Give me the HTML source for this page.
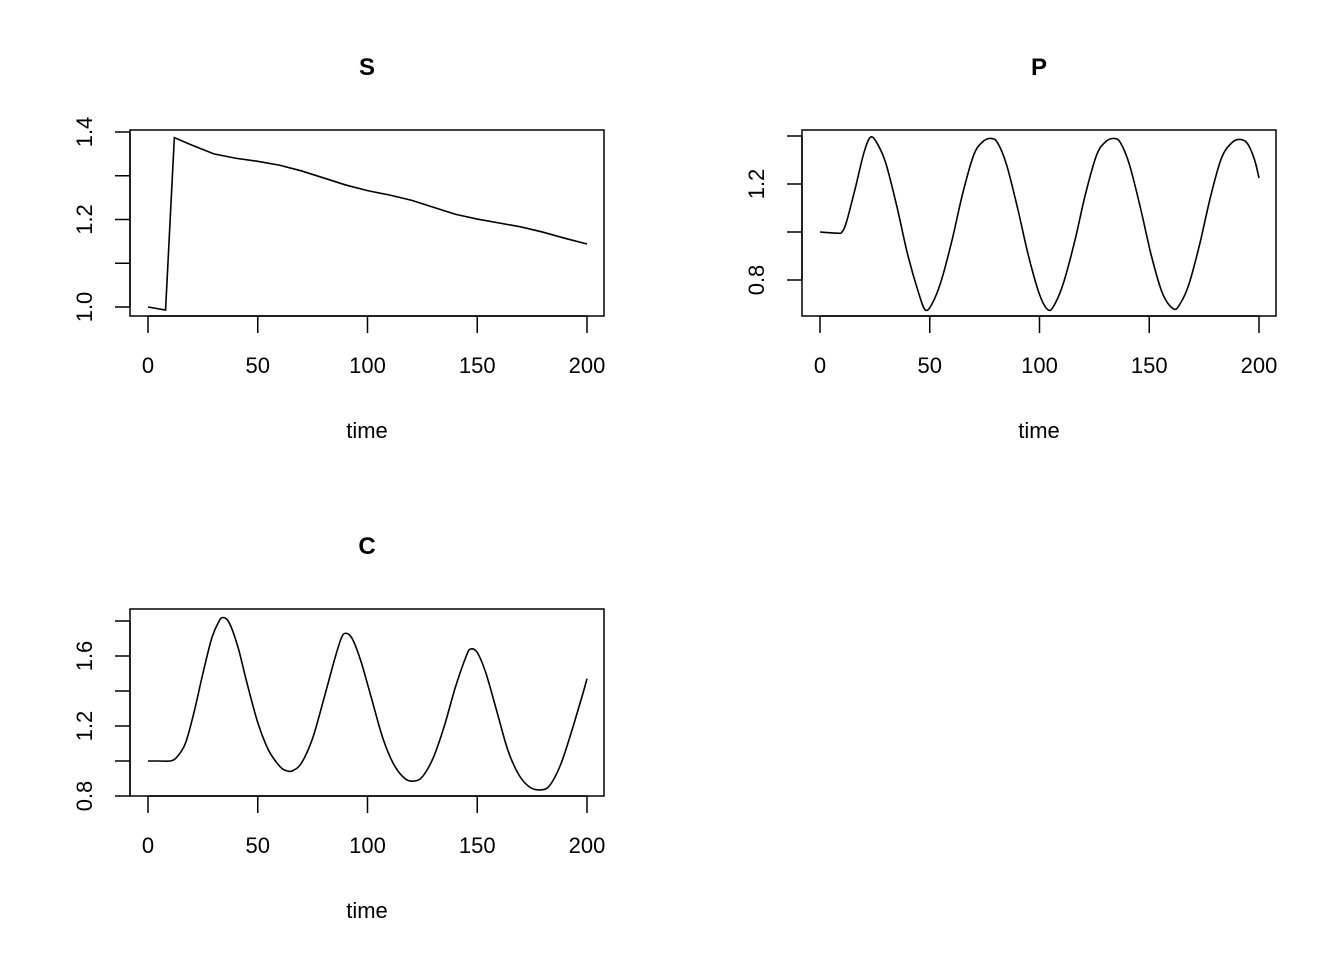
<!DOCTYPE html>
<html><head><meta charset="utf-8"><style>
html,body{margin:0;padding:0;background:#fff;}
svg{display:block;font-family:"Liberation Sans",Arial,sans-serif;}
</style></head><body>
<svg id="c" width="1344" height="960" viewBox="0 0 1344 960"></svg>
<script>
const sTime=[0,8,12,20,30,40,50,60,70,80,90,100,110,120,130,140,150,160,170,180,190,200];
const sVals=[1.0,0.993,1.387,1.37,1.35,1.34,1.333,1.324,1.311,1.295,1.279,1.266,1.256,1.244,1.228,1.212,1.201,1.192,1.183,1.171,1.157,1.144];
const pTime=[0,8,10,12,16,20,23,26,30,35,40,45,48,51,55,60,65,70,74,78,81,85,90,95,100,104,107,111,116,121,126,130,134,137,141,146,151,156,161,164,168,173,178,183,188,192,195,198,200];
const pVals=[1.0,0.995,1.0,1.04,1.18,1.33,1.395,1.37,1.286,1.107,0.904,0.744,0.675,0.70,0.79,0.96,1.16,1.32,1.375,1.39,1.37,1.28,1.10,0.90,0.74,0.675,0.70,0.79,0.96,1.16,1.32,1.375,1.39,1.37,1.28,1.10,0.90,0.745,0.68,0.70,0.78,0.95,1.15,1.31,1.375,1.385,1.365,1.30,1.225];
const cTime=[0,5,10,13,17,21,25,29,32,34,37,41,45,50,55,60,63,66,70,75,80,85,88,90,93,97,102,107,112,117,121,125,130,135,140,145,147,150,154,159,164,169,174,179,183,188,193,198,200];
const cVals=[1.0,1.0,1.0,1.02,1.1,1.28,1.5,1.7,1.79,1.82,1.79,1.65,1.45,1.22,1.06,0.97,0.945,0.945,0.99,1.13,1.35,1.58,1.7,1.73,1.7,1.57,1.35,1.13,0.98,0.9,0.885,0.91,1.02,1.2,1.42,1.6,1.64,1.62,1.5,1.28,1.06,0.92,0.85,0.835,0.86,0.98,1.17,1.38,1.47];
const xTicks=[0,50,100,150,200];
const sYTicks=[1.0,1.1,1.2,1.3,1.4], sYLabels=["1.0","","1.2","","1.4"];
const pYTicks=[0.8,1.0,1.2,1.4], pYLabels=["0.8","","1.2",""];
const cYTicks=[0.8,1.0,1.2,1.4,1.6,1.8], cYLabels=["0.8","","1.2","","1.6",""];

const svg=document.getElementById('c');
const NS='http://www.w3.org/2000/svg';
function mk(tag,attrs,parent){const e=document.createElementNS(NS,tag);for(const k in attrs)e.setAttribute(k,attrs[k]);(parent||svg).appendChild(e);return e;}

function panel(name,title,box,y0v,y0p,y1v,y1p,times,vals,yt,yl,smooth){
  const g=mk('g',{});
  
  
  const X=t=>box.x0x+(t)*(box.x200-box.x0x)/200;
  const Y=v=>y0p+(v-y0v)*(y1p-y0p)/(y1v-y0v);
  const r=mk('rect',{x:box.l,y:box.t,width:box.r-box.l,height:box.b-box.t,fill:'none',stroke:'#000','stroke-width':1.5},g);
  
  
  const tt=mk('text',{x:(box.l+box.r)/2,y:box.t-55,'text-anchor':'middle','font-size':24,'font-weight':'bold'},g);
  tt.textContent=title;
  
  
  mk('line',{x1:X(xTicks[0]),x2:X(xTicks[xTicks.length-1]),y1:box.b,y2:box.b,stroke:'#000','stroke-width':1.5},g);
  xTicks.forEach(t=>{
    mk('line',{x1:X(t),x2:X(t),y1:box.b,y2:box.b+17,stroke:'#000','stroke-width':1.5},g);
    const l=mk('text',{x:X(t),y:box.b+57,'text-anchor':'middle','font-size':22},g);
    l.textContent=t;
    
    
  });
  const xl=mk('text',{x:(box.l+box.r)/2,y:box.b+122,'text-anchor':'middle','font-size':22},g);
  xl.textContent='time';
  
  
  mk('line',{x1:box.l,x2:box.l,y1:Y(yt[0]),y2:Y(yt[yt.length-1]),stroke:'#000','stroke-width':1.5},g);
  yt.forEach((v,i)=>{
    mk('line',{x1:box.l-15,x2:box.l,y1:Y(v),y2:Y(v),stroke:'#000','stroke-width':1.5},g);
    if(yl[i]){
      const xx=box.l-38, yy=Y(v);
      const l=mk('text',{x:xx,y:yy,'text-anchor':'middle','font-size':22,transform:`rotate(-90 ${xx} ${yy})`},g);
      l.textContent=yl[i];
      
      
    }
  });
  const pts=times.map((t,i)=>[X(t),Y(vals[i])]);
  let d='M'+pts[0][0].toFixed(2)+','+pts[0][1].toFixed(2);
  for(let i=1;i<pts.length;i++){
    if(!smooth){d+=' L'+pts[i][0].toFixed(2)+','+pts[i][1].toFixed(2);continue;}
    const p0=pts[Math.max(i-2,0)],p1=pts[i-1],p2=pts[i],p3=pts[Math.min(i+1,pts.length-1)];
    const c1=[p1[0]+(p2[0]-p0[0])/6,p1[1]+(p2[1]-p0[1])/6];
    const c2=[p2[0]-(p3[0]-p1[0])/6,p2[1]-(p3[1]-p1[1])/6];
    d+=` C${c1[0].toFixed(2)},${c1[1].toFixed(2)} ${c2[0].toFixed(2)},${c2[1].toFixed(2)} ${p2[0].toFixed(2)},${p2[1].toFixed(2)}`;
  }
  const path=mk('path',{d:d,fill:'none',stroke:'#000','stroke-width':1.6},g);
  
  
}
panel('s','S',{l:130,r:604,t:130,b:316,x0x:148,x200:587},1.0,307,1.4,132,sTime,sVals,sYTicks,sYLabels,false);
panel('p','P',{l:802,r:1276,t:130,b:316,x0x:820,x200:1259},0.8,280,1.2,184,pTime,pVals,pYTicks,pYLabels,true);
panel('c','C',{l:130,r:604,t:609,b:796,x0x:148,x200:587},0.8,796,1.6,656,cTime,cVals,cYTicks,cYLabels,true);
</script>
</body></html>
